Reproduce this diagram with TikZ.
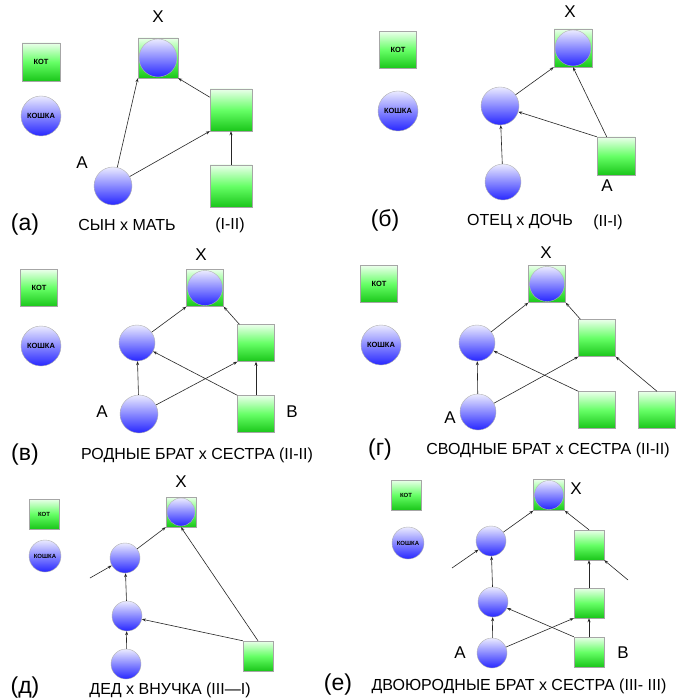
\documentclass[tikz,border=0pt]{standalone}
\usepackage{fontspec}
\setmainfont{Liberation Sans}
\usetikzlibrary{arrows.meta}
\begin{document}
\begin{tikzpicture}[x=1pt,y=-1pt,
 sq/.style={draw=gray!70,inner sep=0pt,minimum width=#1,minimum height=#1,top color=green!8!white,bottom color=green!75!black!90,middle color=green!60},
 sq/.default=38,
 ci/.style={circle,draw=gray!60,inner sep=0pt,minimum size=#1,left color=blue!8!white,right color=blue!85,shading angle=0},
 ci/.default=37,
 ar/.style={-{Stealth[length=4pt,width=3pt]},black!85,line width=0.6pt},
 lg/.style={font=\bfseries\fontsize{7.5}{7.5}\selectfont},
 ls/.style={font=\bfseries\fontsize{6}{6}\selectfont},
 tt/.style={font=\fontsize{16}{16}\selectfont},
 lb/.style={font=\fontsize{17}{17}\selectfont},
 pp/.style={font=\fontsize{23}{23}\selectfont}]
\useasboundingbox (0,0) rectangle (700,700);
\fill[white] (0,0) rectangle (700,700);
% (a)
\node[sq=38,lg] (a0) at (41,62) {КОТ};
\node[ci=40,lg] (a1) at (41,116) {КОШКА};
\node[sq=40] (aX) at (158,58) {};
\node[ci=38] (aXc) at (158,58) {};
\node[lb] (aXl) at (158,17) {X};
\node[sq=42] (aM) at (231,110) {};
\node[sq=42] (aG) at (231,186) {};
\node[ci=38] (aA) at (113,186) {};
\node[lb] (aAl) at (82,163) {A};
\draw[ar] (aA) -- (aX.south west);
\draw[ar] (aA) -- (aM.south west);
\draw[ar] (aG) -- (aM);
\draw[ar] (aM) -- (aX.south east);
\node[pp] (at) at (25,225) {(а)};
\node[tt] (at1) at (127,225) {СЫН x МАТЬ};
\node[tt] (at2) at (230,225) {(I-II)};
% (б)
\node[sq=37,lg] (b0) at (398,50) {КОТ};
\node[ci=40,lg] (b1) at (398,111) {КОШКА};
\node[sq=38] (bX) at (573,48) {};
\node[ci=36] (bXc) at (573,48) {};
\node[lb] (bXl) at (570,12) {X};
\node[ci=38] (bF) at (500,106) {};
\node[ci=36] (bG) at (503,182) {};
\node[sq=38] (bA) at (616,156) {};
\node[lb] (bAl) at (607,186) {A};
\draw[ar] (bG) -- (bF);
\draw[ar] (bF) -- (bX.south west);
\draw[ar] (bA) -- (bX.south);
\draw[ar] (bA.north west) -- (bF);
\node[pp] (bt) at (385,220) {(б)};
\node[tt] (bt1) at (520,222) {ОТЕЦ x ДОЧЬ};
\node[tt] (bt2) at (608,222) {(II-I)};
% (в)
\node[sq=37,lg] (c0) at (39,288) {КОТ};
\node[ci=40,lg] (c1) at (41,346) {КОШКА};
\node[sq=37] (cX) at (205,288) {};
\node[ci=35] (cXc) at (205,288) {};
\node[lb] (cXl) at (201,255) {X};
\node[ci=36] (cF) at (137,343) {};
\node[sq=37] (cM) at (256,343) {};
\node[ci=38] (cA) at (139,414) {};
\node[sq=37] (cB) at (256,414) {};
\node[lb] (cAl) at (102,412) {A};
\node[lb] (cBl) at (292,412) {B};
\draw[ar] (cA) -- (cF);
\draw[ar] (cF) -- (cX.south west);
\draw[ar] (cM) -- (cX.south east);
\draw[ar] (cA) -- (cM.south west);
\draw[ar] (cB.north west) -- (cF);
\draw[ar] (cB) -- (cM);
\node[pp] (ct) at (25,455) {(в)};
\node[tt] (ct1) at (197,455) {РОДНЫЕ БРАТ x СЕСТРА (II-II)};
% (г)
\node[sq=37,lg] (d0) at (379,284) {КОТ};
\node[ci=40,lg] (d1) at (381,345) {КОШКА};
\node[sq=37] (dX) at (547,284) {};
\node[ci=35] (dXc) at (547,284) {};
\node[lb] (dXl) at (546,253) {X};
\node[ci=36] (dF) at (477,343) {};
\node[sq=37] (dM) at (597,338) {};
\node[ci=36] (dA) at (478,412) {};
\node[sq=37] (dM1) at (597,410) {};
\node[sq=37] (dM2) at (657,410) {};
\node[lb] (dAl) at (450,418) {A};
\draw[ar] (dA) -- (dF);
\draw[ar] (dF) -- (dX.south west);
\draw[ar] (dM) -- (dX.south east);
\draw[ar] (dA) -- (dM.south west);
\draw[ar] (dM1.north west) -- (dF);
\draw[ar] (dM2.north) -- (dM.south east);
\node[pp] (dt) at (380,450) {(г)};
\node[tt] (dt1) at (548,450) {СВОДНЫЕ БРАТ x СЕСТРА (II-II)};
% (д)
\node[sq=30,ls] (e0) at (44,514) {КОТ};
\node[ci=32,ls] (e1) at (45,556) {КОШКА};
\node[sq=30] (eX) at (181,512) {};
\node[ci=28] (eXc) at (181,512) {};
\node[lb] (eXl) at (181,482) {X};
\node[ci=30] (eC1) at (125,558) {};
\node[ci=30] (eC2) at (127,616) {};
\node[ci=30] (eC3) at (126,664) {};
\node[sq=30] (eS) at (258,656) {};
\coordinate (eFree) at (90,578);
\draw[ar] (eC3) -- (eC2);
\draw[ar] (eC2) -- (eC1);
\draw[ar] (eC1) -- (eX.south west);
\draw[ar] (eS.north) -- (eX.south);
\draw[ar] (eS.north west) -- (eC2);
\draw[ar] (eFree) -- (eC1);
\node[pp] (et) at (25,688) {(д)};
\node[tt] (et1) at (170,690) {ДЕД x ВНУЧКА (III—I)};
% (е)
\node[sq=30,ls] (f0) at (406,495) {КОТ};
\node[ci=32,ls] (f1) at (408,543) {КОШКА};
\node[sq=31] (fX) at (549,495) {};
\node[ci=29] (fXc) at (549,495) {};
\node[lb] (fXl) at (576,489) {X};
\node[ci=30] (fC1) at (491,541) {};
\node[ci=30] (fC2) at (493,602) {};
\node[ci=30] (fA) at (492,653) {};
\node[sq=30] (fS1) at (589,545) {};
\node[sq=30] (fS2) at (589,603) {};
\node[sq=30] (fB) at (589,652) {};
\node[lb] (fAl) at (460,653) {A};
\node[lb] (fBl) at (623,653) {B};
\coordinate (fFree1) at (452,568);
\coordinate (fFree2) at (628,580);
\draw[ar] (fA) -- (fC2);
\draw[ar] (fC2) -- (fC1);
\draw[ar] (fC1) -- (fX.south west);
\draw[ar] (fS1.north) -- (fX.south east);
\draw[ar] (fS2) -- (fS1);
\draw[ar] (fB) -- (fS2);
\draw[ar] (fA) -- (fS2.south west);
\draw[ar] (fB.north west) -- (fC2);
\draw[ar] (fFree1) -- (fC1);
\draw[ar] (fFree2) -- (fS1.south east);
\node[pp] (ft) at (338,685) {(е)};
\node[tt] (ft1) at (519,686) {ДВОЮРОДНЫЕ БРАТ x СЕСТРА (III- III)};
\end{tikzpicture}
\end{document}
